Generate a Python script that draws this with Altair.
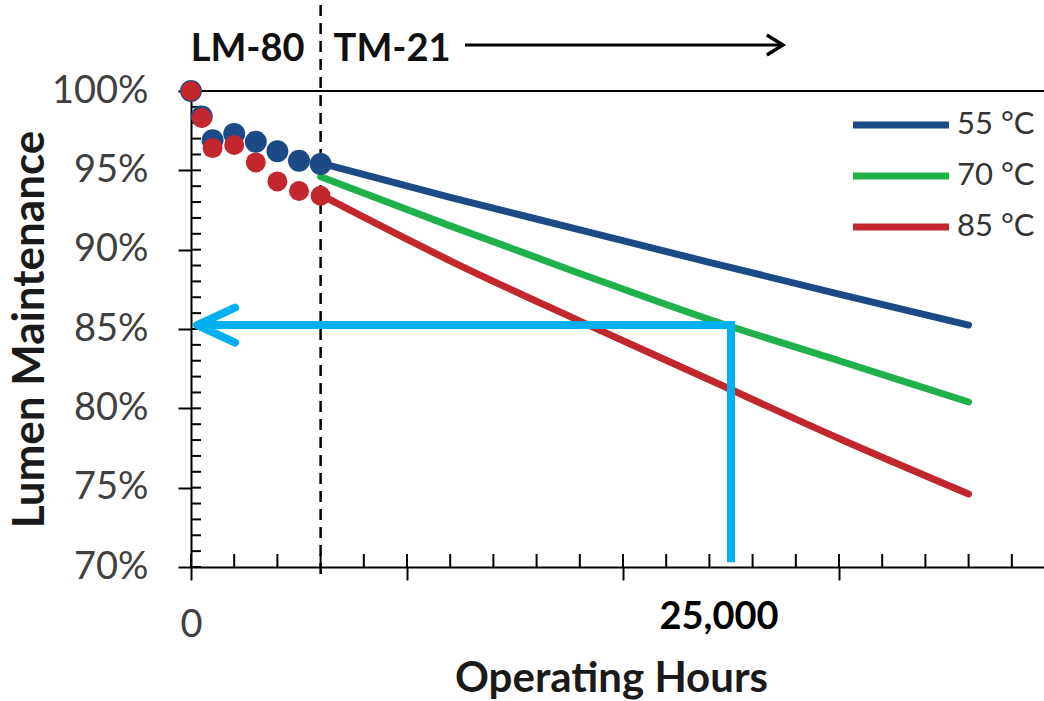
import altair as alt
import pandas as pd

# ---------------- data ----------------
series = ["55 °C", "70 °C", "85 °C"]
colors = ["#1B4A87", "#21B14B", "#C1272D"]

# LM-80 measured points (hours, lumen maintenance %)
lm80_hours = [0, 500, 1000, 2000, 3000, 4000, 5000, 6000]
lm80_55 = [100.0, 98.4, 96.9, 97.3, 96.8, 96.2, 95.6, 95.4]
lm80_85 = [100.0, 98.3, 96.4, 96.6, 95.5, 94.3, 93.7, 93.4]

# TM-21 projections
tm21_hours = [6000, 12000, 18000, 24000, 30000, 36000]
tm21_55 = [95.45, 93.3, 91.25, 89.2, 87.2, 85.25]
tm21_70 = [94.6, 91.5, 88.5, 85.6, 83.0, 80.4]
tm21_85 = [93.45, 89.3, 85.5, 81.8, 78.1, 74.6]

# axes
y_ticks = [70, 75, 80, 85, 90, 95, 100]
y_minor = list(range(70, 101))
x_major = [0, 10000, 20000, 30000]
x_minor = list(range(0, 40000, 2000))
x_max = 39490

# annotations
lm80_end = 6000
arrow_hours = [25000, 25000, 300]
arrow_values = [70.3, 85.25, 85.25]
arrow_tip = (280, 85.25)
target_label = "25,000"
top_arrow_from, top_arrow_to, top_arrow_y = 12685, 27300, 102.9
top_labels = ["LM-80", "TM-21"]

# ---------------- chart ----------------
W, H = 853, 476
FONT = "Lato"
xs = alt.Scale(domain=[0, x_max], nice=False, zero=False)
ys = alt.Scale(domain=[70, 100], nice=False, zero=False)

x_axis = alt.Axis(
    values=x_major, labelExpr="datum.value == 0 ? '0' : ''", grid=False,
    domainColor="black", domainWidth=2, tickColor="black", tickWidth=2, tickSize=13,
    labelFont=FONT, labelFontSize=38, labelColor="#404040", labelPadding=26,
    labelFlush=False, labelOverlap=False,
    title="Operating Hours", titleFont=FONT, titleFontSize=42, titleFontWeight="bold",
    titleColor="#1a1a1a", titleX=420, titleY=124, titleBaseline="alphabetic", titleAlign="center",
)
y_axis = alt.Axis(
    values=y_ticks, labelExpr="datum.value + '%'", grid=False,
    domainColor="black", domainWidth=2, tickColor="black", tickWidth=2, tickSize=13,
    labelFont=FONT, labelFontSize=38, labelColor="#404040", labelPadding=30,
    labelOverlap=False,
    title="Lumen Maintenance", titleFont=FONT, titleFontSize=44, titleFontWeight="bold",
    titleColor="#1a1a1a", titleX=-148, titleY=H / 2, titleAngle=270,
    titleBaseline="alphabetic", titleAlign="center",
)


def X(f):
    return alt.X(f, scale=xs, axis=x_axis)


def Y(f):
    return alt.Y(f, scale=ys, axis=y_axis)


line_df = pd.DataFrame({
    "hours": tm21_hours * 3,
    "value": tm21_55 + tm21_70 + tm21_85,
    "series": [series[0]] * 6 + [series[1]] * 6 + [series[2]] * 6,
})
blue_df = pd.DataFrame({"hours": lm80_hours, "value": lm80_55})
red_df = pd.DataFrame({"hours": lm80_hours, "value": lm80_85})

legend = alt.Legend(
    title=None, orient="none", legendX=691.5, legendY=15.5, direction="vertical",
    symbolType="M-3.2,0H3.2", symbolSize=900, symbolStrokeWidth=7,
    labelFont=FONT, labelFontSize=31, labelColor="#333333", labelOffset=37.5,
    rowPadding=17, padding=0,
)

lines = alt.Chart(line_df).mark_line(strokeWidth=7, strokeCap="round", interpolate="monotone").encode(
    x=X("hours:Q"), y=Y("value:Q"),
    color=alt.Color("series:N", scale=alt.Scale(domain=series, range=colors), legend=legend),
)
blue_pts = alt.Chart(blue_df).mark_circle(size=480, opacity=1, color=colors[0]).encode(
    x=X("hours:Q"), y=Y("value:Q"))
red_pts = alt.Chart(red_df).mark_circle(size=400, opacity=1, color=colors[2]).encode(
    x=X("hours:Q"), y=Y("value:Q"))

# inside minor ticks
xminor = alt.Chart(pd.DataFrame({"hours": x_minor})).mark_rule(color="black", strokeWidth=2).encode(
    x=X("hours:Q"), y=alt.value(H), y2=alt.value(H - 13))
yminor = alt.Chart(pd.DataFrame({"value": y_minor})).mark_rule(color="black", strokeWidth=2).encode(
    y=Y("value:Q"), x=alt.value(0), x2=alt.value(10))

# top frame line at 100 %
top_line = alt.Chart(pd.DataFrame({"value": [100]})).mark_rule(color="black", strokeWidth=2).encode(
    y=Y("value:Q"))

# dashed LM-80 limit
dashed = alt.Chart(pd.DataFrame({"hours": [lm80_end]})).mark_rule(
    color="black", strokeWidth=2.5, strokeDash=[11, 7]).encode(
    x=X("hours:Q"), y=alt.value(-86), y2=alt.value(489))

# light-blue arrow
arrow_df = pd.DataFrame({"hours": arrow_hours, "value": arrow_values, "o": [0, 1, 2]})
arrow = alt.Chart(arrow_df).mark_line(
    color="#00B0F0", strokeWidth=8, strokeJoin="miter", strokeCap="butt").encode(
    x=X("hours:Q"), y=Y("value:Q"), order="o:O")
arrow_head = alt.Chart(pd.DataFrame({"hours": [arrow_tip[0]], "value": [arrow_tip[1]]})).mark_point(
    shape="M2,-0.92L0,0L2,0.92", size=1444, filled=False, color="#00B0F0",
    strokeWidth=8, strokeCap="round", strokeJoin="round", opacity=1).encode(
    x=X("hours:Q"), y=Y("value:Q"))

target_txt = alt.Chart(pd.DataFrame({"hours": [25000], "t": [target_label]})).mark_text(
    font=FONT, fontSize=38, fontWeight="bold", color="black", align="center",
    baseline="alphabetic", dx=-12).encode(
    x=X("hours:Q"), y=alt.value(538), text="t:N")

# top annotation: LM-80 | TM-21 ----->
lm_txt = alt.Chart(pd.DataFrame({"hours": [lm80_end], "t": [top_labels[0]]})).mark_text(
    font=FONT, fontSize=38, fontWeight="bold", color="#111111", align="right",
    baseline="alphabetic", dx=-16).encode(x=X("hours:Q"), y=alt.value(-30), text="t:N")
tm_txt = alt.Chart(pd.DataFrame({"hours": [lm80_end], "t": [top_labels[1]]})).mark_text(
    font=FONT, fontSize=38, fontWeight="bold", color="#111111", align="left",
    baseline="alphabetic", dx=13).encode(x=X("hours:Q"), y=alt.value(-30), text="t:N")
top_shaft = alt.Chart(pd.DataFrame({"hours": [top_arrow_from], "h2": [top_arrow_to],
                                    "value": [top_arrow_y]})).mark_rule(
    color="black", strokeWidth=3).encode(x=X("hours:Q"), x2="h2:Q", y=Y("value:Q"))
top_head = alt.Chart(pd.DataFrame({"hours": [top_arrow_to + 100], "value": [top_arrow_y]})).mark_point(
    shape="M-1.6,-1L0,0L-1.6,1", size=400, filled=False, color="black",
    strokeWidth=3.5, opacity=1).encode(x=X("hours:Q"), y=Y("value:Q"))

chart = alt.layer(
    xminor, yminor, top_line, dashed, lines, blue_pts, red_pts, arrow, arrow_head,
    target_txt, lm_txt, tm_txt, top_shaft, top_head,
).properties(
    width=W, height=H, autosize="none",
    padding={"left": 191, "top": 91, "right": 0, "bottom": 134},
    background="white",
).configure_view(strokeWidth=0).configure(font=FONT)

chart.save("out.html", embed_options={"renderer": "svg", "actions": False})
